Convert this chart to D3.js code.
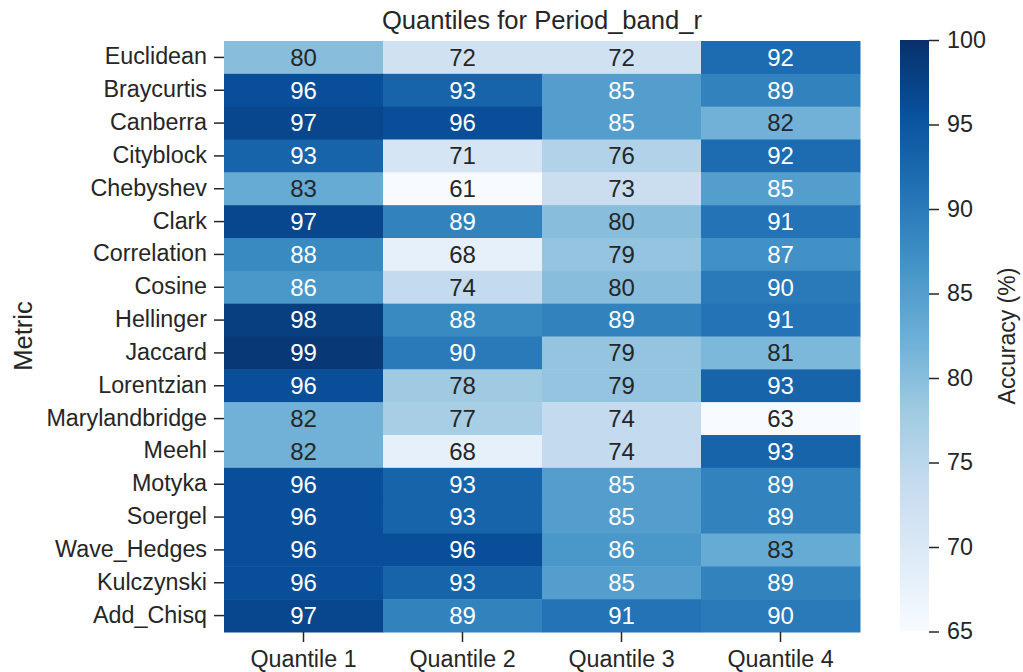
<!DOCTYPE html>
<html>
<head>
<meta charset="utf-8">
<script src="https://cdn.jsdelivr.net/npm/d3@7"></script>
<style>
  body { margin: 0; background: #fff; }
  svg text { font-family: "Liberation Sans", Arial, sans-serif; fill: #262626; }
  .tick line, .domain { stroke: #262626; }
</style>
</head>
<body>
<svg id="chart" width="1023" height="672"></svg>
<script>
const metrics = ["Euclidean","Braycurtis","Canberra","Cityblock","Chebyshev","Clark","Correlation","Cosine","Hellinger","Jaccard","Lorentzian","Marylandbridge","Meehl","Motyka","Soergel","Wave_Hedges","Kulczynski","Add_Chisq"]
const quantiles = ["Quantile 1","Quantile 2","Quantile 3","Quantile 4"]
const q1 = [80,96,97,93,83,97,88,86,98,99,96,82,82,96,96,96,96,97]
const q2 = [72,93,96,71,61,89,68,74,88,90,78,77,68,93,93,96,93,89]
const q3 = [72,85,85,76,73,80,79,80,89,79,79,74,74,85,85,86,85,91]
const q4 = [92,89,82,92,85,91,87,90,91,81,93,63,93,89,89,83,89,90]
const cbTicks = [65,70,75,80,85,90,95,100]
const vmin = 65, vmax = 100

const columns = [q1,q2,q3,q4]
let cells = []
metrics.forEach(function(m,i){
  quantiles.forEach(function(q,j){ cells.push({m:m, q:q, v:columns[j][i]}) })
})

let svg = d3.select("#chart")

// matplotlib "Blues"
const blues = ["#f7fbff","#deebf7","#c6dbef","#9ecae1","#6baed6","#4292c6","#2171b5","#08519c","#08306b"]
let colorScale = d3.scaleLinear()
  .domain(blues.map((d,i) => vmin + i*(vmax-vmin)/8))
  .range(blues).clamp(true)
// position on the colormap, used to pick light or dark annotation text
let norm = d3.scaleLinear().domain([vmin,vmax]).range([0,1]).clamp(true)

let xScale = d3.scaleBand().domain(quantiles).range([224,860])
let yScale = d3.scaleBand().domain(metrics).range([41,632])

svg.selectAll(".cell").data(cells).enter()
  .append("rect").attr("class","cell")
  .attr("x", d => xScale(d.q)).attr("y", d => yScale(d.m))
  .attr("width", xScale.bandwidth()+0.5).attr("height", yScale.bandwidth()+0.5)
  .attr("fill", d => colorScale(d.v))

svg.selectAll(".annot").data(cells).enter()
  .append("text").attr("class","annot")
  .attr("x", d => xScale(d.q) + xScale.bandwidth()/2)
  .attr("y", d => yScale(d.m) + yScale.bandwidth()/2)
  .attr("dy","0.35em")
  .attr("text-anchor","middle")
  .attr("font-size", 24)
  .style("fill", d => norm(d.v) > 0.54 ? "#ffffff" : "#262626")
  .text(d => d.v)

// axes
let x_axis = d3.axisBottom(xScale).tickSize(10).tickPadding(8)
let y_axis = d3.axisLeft(yScale).tickSize(10).tickPadding(7)
let gx = svg.append("g").attr("transform","translate(0,632)").call(x_axis)
let gy = svg.append("g").attr("transform","translate(224,0)").call(y_axis)
;[gx,gy].forEach(function(g){
  g.select(".domain").remove()
  g.selectAll(".tick line").attr("stroke-width",1.5)
  g.selectAll(".tick text").attr("font-size",23.3).style("fill","#262626")
})
gy.selectAll(".tick text").attr("dy","0.3em")

// title and labels
svg.append("text").attr("x",542).attr("y",29).attr("text-anchor","middle")
  .attr("font-size",25.6).text("Quantiles for Period_band_r")
svg.append("text").attr("transform","translate(32,336) rotate(-90)")
  .attr("text-anchor","middle").attr("font-size",25.6).text("Metric")

// colorbar
let cbScale = d3.scaleLinear().domain([vmin,vmax]).range([631.5,40])
let grad = svg.append("defs").append("linearGradient").attr("id","cbgrad")
  .attr("x1","0").attr("y1","1").attr("x2","0").attr("y2","0")
blues.forEach(function(c,i){
  grad.append("stop").attr("offset", (i/8*100)+"%").attr("stop-color",c)
})
svg.append("rect").attr("x",900).attr("y",cbScale(vmax)).attr("width",29)
  .attr("height",cbScale(vmin)-cbScale(vmax)).attr("fill","url(#cbgrad)")
let cb_axis = d3.axisRight(cbScale).tickValues(cbTicks).tickSize(10).tickPadding(8)
let gc = svg.append("g").attr("transform","translate(929,0)").call(cb_axis)
gc.select(".domain").remove()
gc.selectAll(".tick line").attr("stroke-width",1.5)
gc.selectAll(".tick text").attr("font-size",23.3).style("fill","#262626")
svg.append("text").attr("transform","translate(1015,336) rotate(-90)")
  .attr("text-anchor","middle").attr("font-size",23).text("Accuracy (%)")
</script>
</body>
</html>
